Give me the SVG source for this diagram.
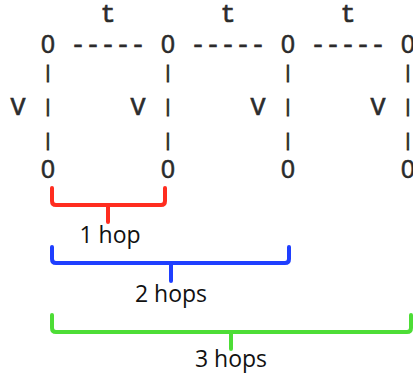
<svg xmlns="http://www.w3.org/2000/svg" width="413" height="378" viewBox="0 0 413 378">
<style>
.m{font-family:"Liberation Mono","DejaVu Sans Mono",monospace;font-size:25px;fill:#2b2b2b;stroke:#2b2b2b;stroke-width:0.7;text-anchor:middle}
.z{font-family:"Liberation Sans","Arial",sans-serif;font-size:25px;fill:#2b2b2b;stroke:#2b2b2b;stroke-width:0.5;text-anchor:middle}
.bar{font-family:"Liberation Mono","DejaVu Sans Mono",monospace;font-size:18px;fill:#2b2b2b;stroke:#2b2b2b;stroke-width:0.8;text-anchor:middle}
.lbl{font-family:"Open Sans","Noto Sans",sans-serif;font-size:23px;fill:#111;text-anchor:middle}
.br{fill:none;stroke-width:4;stroke-linecap:round;stroke-linejoin:round}
</style>
<rect width="413" height="378" fill="#fff"/>
<g id="labels-t">
<text class="m" x="108" y="22">t</text>
<text class="m" x="228" y="22">t</text>
<text class="m" x="348" y="22">t</text>
</g>
<g id="connectors">
<text class="m" x="108" y="53">-----</text>
<text class="m" x="228" y="53">-----</text>
<text class="m" x="348" y="53">-----</text>
<text class="bar" x="48" y="78">|</text>
<text class="bar" x="48" y="112">|</text>
<text class="bar" x="48" y="146">|</text>
<text class="bar" x="168" y="78">|</text>
<text class="bar" x="168" y="112">|</text>
<text class="bar" x="168" y="146">|</text>
<text class="bar" x="288" y="78">|</text>
<text class="bar" x="288" y="112">|</text>
<text class="bar" x="288" y="146">|</text>
<text class="bar" x="408" y="78">|</text>
<text class="bar" x="408" y="112">|</text>
<text class="bar" x="408" y="146">|</text>
</g>
<g id="labels-v">
<text class="m" x="18" y="115">V</text>
<text class="m" x="138" y="115">V</text>
<text class="m" x="258" y="115">V</text>
<text class="m" x="378" y="115">V</text>
</g>
<g id="n-top-1"><text class="z" x="48" y="53">0</text></g>
<g id="n-top-2"><text class="z" x="168" y="53">0</text></g>
<g id="n-top-3"><text class="z" x="288" y="53">0</text></g>
<g id="n-top-4"><text class="z" x="408" y="53">0</text></g>
<g id="n-bot-1"><text class="z" x="48" y="178">0</text></g>
<g id="n-bot-2"><text class="z" x="168" y="178">0</text></g>
<g id="n-bot-3"><text class="z" x="288" y="178">0</text></g>
<g id="n-bot-4"><text class="z" x="408" y="178">0</text></g>
<g id="hop1">
<path class="br" stroke="#ff2d20" d="M52,188 V201 Q52,205 56,205 H161 Q165,205 165,201 V188 M108,205 V222"/>
<text class="lbl" x="110" y="243">1 hop</text>
</g>
<g id="hop2">
<path class="br" stroke="#1f3fff" d="M52,247 V259 Q52,263 56,263 H285 Q289,263 289,259 V247 M171,263 V281"/>
<text class="lbl" x="171" y="302">2 hops</text>
</g>
<g id="hop3">
<path class="br" stroke="#4ddd36" d="M52,315 V328 Q52,332 56,332 H407 Q411,332 411,328 V315 M231,332 V349"/>
<text class="lbl" x="231" y="367">3 hops</text>
</g>
</svg>
